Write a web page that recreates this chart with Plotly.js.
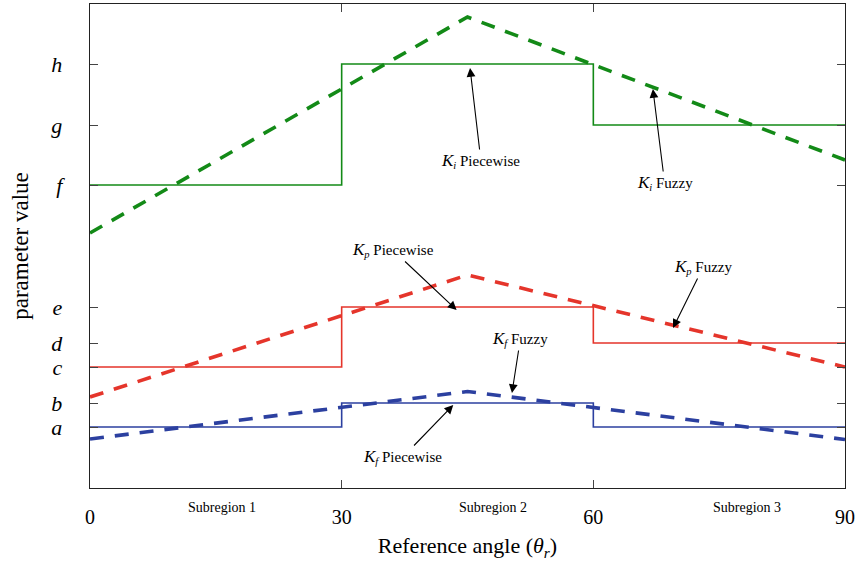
<!DOCTYPE html>
<html>
<head>
<meta charset="utf-8">
<script src="https://cdn.plot.ly/plotly-3.0.1.min.js"></script>
<style>
  html, body { margin: 0; padding: 0; background: #fff; }
  #chart { width: 856px; height: 570px; }
</style>
</head>
<body>
<div id="chart"></div>
<script>
// Reference angle breakpoints (degrees)
const stepX = [0, 30, 30, 60, 60, 90];
const fuzzyX = [0, 45, 90];

// Parameter levels a..h (arbitrary units)
const levelNames = ['a', 'b', 'c', 'd', 'e', 'f', 'g', 'h'];
const levelValues = [6.1, 8.5, 12.1, 14.5, 18.1, 30.3, 36.3, 42.4];

// Piecewise (step) gains
const kiPiecewise = [30.3, 30.3, 42.4, 42.4, 36.3, 36.3];
const kpPiecewise = [12.1, 12.1, 18.1, 18.1, 14.5, 14.5];
const kfPiecewise = [6.1, 6.1, 8.5, 8.5, 6.1, 6.1];

// Fuzzy gains
const kiFuzzy = [25.5, 47.1, 32.8];
const kpFuzzy = [9.1, 21.3, 12.1];
const kfFuzzy = [4.9, 9.65, 4.85];

// Subregion captions
const subregionNames = ['Subregion 1', 'Subregion 2', 'Subregion 3'];
const subregionX = [15.7, 48.0, 78.3];

const GREEN = '#138a17';
const RED = '#e5352b';
const BLUE = '#2c40a0';
const FONT = '"Liberation Serif", "Times New Roman", serif';

function solid(y, color) {
  return { x: stepX, y: y, mode: 'lines', line: { color: color, width: 1.6 }, hoverinfo: 'skip' };
}
function dashed(y, color) {
  return { x: fuzzyX, y: y, mode: 'lines', line: { color: color, width: 3.6, dash: '14px,11px' }, hoverinfo: 'skip' };
}

const traces = [
  solid(kiPiecewise, GREEN), dashed(kiFuzzy, GREEN),
  solid(kpPiecewise, RED), dashed(kpFuzzy, RED),
  solid(kfPiecewise, BLUE), dashed(kfFuzzy, BLUE)
];

// Gain symbol with italic subscript
function gain(sub) {
  return '<span style="font-size:17px"><i>K</i></span><sub><i>' + sub + '</i></sub>';
}

// Callout labels: arrow tip (x, y) and label centre (ax, ay)
const callouts = [
  { text: gain('i') + ' Piecewise', x: 45.3, y: 42.0, ax: 46.6, ay: 32.7 },
  { text: gain('i') + ' Fuzzy', x: 67.1, y: 39.9, ax: 68.5, ay: 30.5 },
  { text: gain('p') + ' Piecewise', x: 43.7, y: 17.8, ax: 36.1, ay: 23.8 },
  { text: gain('p') + ' Fuzzy', x: 69.5, y: 16.0, ax: 73.1, ay: 22.1 },
  { text: gain('f') + ' Fuzzy', x: 50.3, y: 9.5, ax: 51.3, ay: 14.9 },
  { text: gain('f') + ' Piecewise', x: 43.3, y: 8.3, ax: 37.3, ay: 3.1 }
];

const annotations = callouts.map(c => ({
  text: c.text, x: c.x, y: c.y, ax: c.ax, ay: c.ay,
  xref: 'x', yref: 'y', axref: 'x', ayref: 'y',
  showarrow: true, arrowhead: 2, arrowsize: 1.6, arrowwidth: 1.1, arrowcolor: '#000',
  standoff: 0, startstandoff: 0,
  font: { family: FONT, size: 15, color: '#000' }
}));

subregionNames.forEach((name, i) => {
  annotations.push({
    text: name, x: subregionX[i], y: -0.041, xref: 'x', yref: 'paper',
    xanchor: 'center', yanchor: 'middle',
    showarrow: false, font: { family: FONT, size: 14, color: '#000' }
  });
});

const layout = {
  width: 856, height: 570,
  margin: { l: 90, r: 11, t: 4, b: 82 },
  paper_bgcolor: '#fff', plot_bgcolor: '#fff',
  showlegend: false,
  font: { family: FONT, color: '#000' },
  xaxis: {
    range: [0, 90], tickvals: [0, 30, 60, 90],
    ticks: 'inside', ticklen: 8, tickcolor: '#444', tickwidth: 1,
    showline: true, linecolor: '#222', linewidth: 1.3, mirror: 'allticks',
    showgrid: false, zeroline: false,
    tickfont: { family: FONT, size: 20 }, ticklabelstandoff: 11,
    title: { text: 'Reference angle (<i>θ</i><sub><i>r</i></sub>)', font: { family: FONT, size: 22 }, standoff: 10 }
  },
  yaxis: {
    range: [0, 48.4], tickvals: levelValues,
    ticktext: levelNames.map(n => '<i>' + n + '</i>'),
    ticks: 'inside', ticklen: 8, tickcolor: '#444', tickwidth: 1,
    showline: true, linecolor: '#222', linewidth: 1.3, mirror: 'allticks',
    showgrid: false, zeroline: false,
    tickfont: { family: FONT, size: 22 }, ticklabelstandoff: 22,
    title: { text: 'parameter value', font: { family: FONT, size: 23 }, standoff: 16 }
  },
  annotations: annotations
};

Plotly.newPlot('chart', traces, layout, { staticPlot: true, displayModeBar: false });
</script>
</body>
</html>
